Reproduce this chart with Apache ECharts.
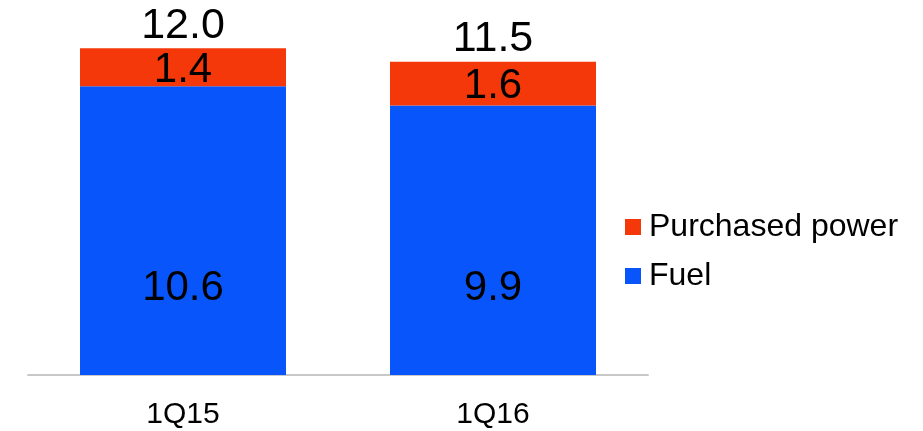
<!DOCTYPE html>
<html>
<head>
<meta charset="utf-8">
<script src="https://cdn.jsdelivr.net/npm/echarts@6/dist/echarts.min.js"></script>
<style>
  html, body { margin: 0; padding: 0; background: #ffffff; }
  #chart { width: 923px; height: 431px; }
</style>
</head>
<body>
<div id="chart"></div>
<script>
// Quarterly cost split (fuel vs purchased power)
const quarters = ['1Q15', '1Q16'];
const fuel = [10.6, 9.9];
const purchasedPower = [1.4, 1.6];
const totals = quarters.map((_, i) => +(fuel[i] + purchasedPower[i]).toFixed(1));

const FONT = '"Liberation Sans", Arial, Helvetica, sans-serif';
const RED = '#F4380A';
const BLUE = '#0856FB';

const chart = echarts.init(document.getElementById('chart'), null, { renderer: 'canvas' });

chart.setOption({
  animation: false,
  backgroundColor: '#ffffff',
  grid: { left: 28, right: 275, top: 21, bottom: 56, containLabel: false },
  legend: {
    orient: 'vertical',
    left: 620,
    top: 206,
    itemWidth: 16,
    itemHeight: 16,
    itemGap: 17,
    icon: 'rect',
    data: ['Purchased power', 'Fuel'],
    textStyle: { fontFamily: FONT, fontSize: 32, color: '#000', padding: [0, 0, 0, 3] }
  },
  xAxis: {
    type: 'category',
    data: quarters,
    axisLine: { show: true, lineStyle: { color: '#c8c8c8', width: 2 } },
    axisTick: { show: false },
    axisLabel: { fontFamily: FONT, fontSize: 30, color: '#000', margin: 25 }
  },
  yAxis: {
    type: 'value',
    min: 0,
    max: 13,
    show: false,
    splitLine: { show: false }
  },
  series: [
    {
      name: 'Fuel',
      type: 'bar',
      stack: 'cost',
      barWidth: 206,
      data: fuel,
      itemStyle: { color: BLUE },
      label: {
        show: true,
        position: 'insideBottom',
        distance: 66,
        fontFamily: FONT,
        fontSize: 42,
        color: '#000',
        formatter: p => p.value.toFixed(1)
      }
    },
    {
      name: 'Purchased power',
      type: 'bar',
      stack: 'cost',
      barWidth: 206,
      data: purchasedPower,
      itemStyle: { color: RED },
      label: {
        show: true,
        position: 'inside',
        offset: [0, 3],
        fontFamily: FONT,
        fontSize: 42,
        color: '#000',
        formatter: p => p.value.toFixed(1)
      }
    },
    {
      // stack totals written above each bar
      name: 'Total',
      type: 'scatter',
      data: totals,
      symbolSize: 0,
      silent: true,
      itemStyle: { opacity: 1, color: '#000' },
      label: {
        show: true,
        position: 'top',
        distance: 1,
        fontFamily: FONT,
        fontSize: 43,
        color: '#000',
        formatter: p => p.value.toFixed(1)
      }
    }
  ]
});
</script>
</body>
</html>
